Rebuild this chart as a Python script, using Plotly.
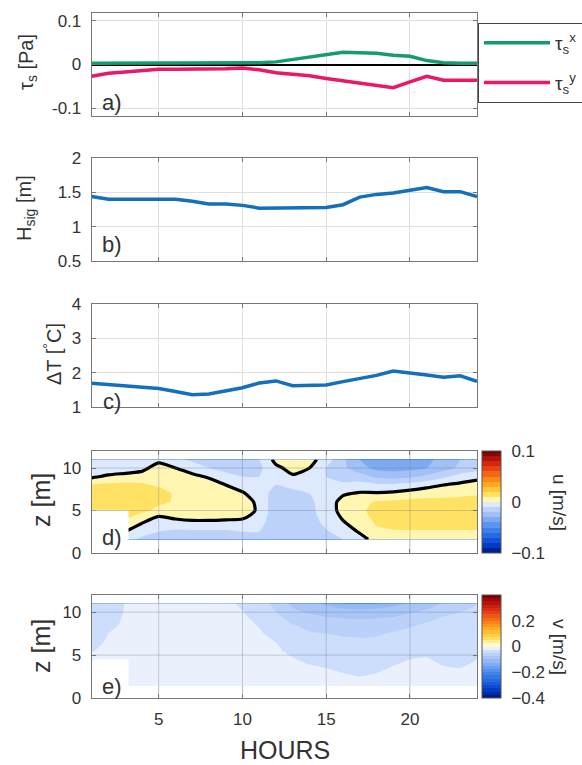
import numpy as np
import plotly.graph_objects as go

# ---------------- data ----------------
HOURS = list(range(1, 25))
TAU_X = [0.003, 0.003, 0.003, 0.003, 0.003, 0.003, 0.003, 0.003, 0.003, 0.003, 0.004, 0.006,
         0.012, 0.017, 0.022, 0.028, 0.027, 0.026, 0.021, 0.019, 0.009, 0.004, 0.003, 0.003]
TAU_Y = [-0.027, -0.020, -0.017, -0.013, -0.011, -0.011, -0.011, -0.011, -0.010, -0.008, -0.012, -0.019,
         -0.022, -0.026, -0.032, -0.037, -0.042, -0.047, -0.053, -0.040, -0.027, -0.036, -0.036, -0.036]
HSIG = [1.44, 1.40, 1.40, 1.40, 1.39, 1.40, 1.37, 1.33, 1.33, 1.31, 1.27, 1.27,
        1.27, 1.27, 1.28, 1.32, 1.43, 1.47, 1.49, 1.53, 1.57, 1.51, 1.51, 1.44]
DT = [1.69, 1.65, 1.60, 1.56, 1.54, 1.45, 1.36, 1.38, 1.48, 1.56, 1.70, 1.76,
      1.62, 1.63, 1.64, 1.74, 1.82, 1.92, 2.05, 2.00, 1.93, 1.87, 1.91, 1.75]

H_GRID = [1, 2, 3.2] + list(range(4, 25))
Z_D = [1.6, 2.5, 3.5, 4.5, 5, 6, 7, 8, 9, 10, 11]
Z_E = [1.4, 2.5, 3.5, 4.5, 5.5, 6.5, 7.5, 8.5, 9.5, 10.5, 11]

# u profiles (one per hour in H_GRID, bottom -> top), None = no data
U_PROFILES = [
    [None, None, None, None, 0.018, 0.019, 0.017, 0.011, -0.002, -0.008, -0.006],
    [None, None, None, None, 0.018, 0.019, 0.017, 0.012, 0.002, -0.008, -0.007],
    [-0.008, -0.001, 0.004, 0.013, 0.016, 0.018, 0.016, 0.012, 0.004, -0.006, -0.007],
    [-0.012, -0.006, 0.000, 0.008, 0.013, 0.015, 0.015, 0.011, 0.006, -0.004, -0.008],
    [-0.014, -0.010, -0.004, 0.001, 0.007, 0.012, 0.013, 0.009, 0.007, 0.006, -0.004],
    [-0.015, -0.012, -0.003, 0.003, 0.006, 0.009, 0.009, 0.008, 0.005, 0.000, -0.008],
    [-0.016, -0.012, -0.002, 0.004, 0.006, 0.008, 0.008, 0.006, 0.002, -0.004, -0.012],
    [-0.016, -0.012, -0.002, 0.004, 0.005, 0.007, 0.006, 0.004, -0.001, -0.010, -0.015],
    [-0.016, -0.012, -0.002, 0.003, 0.005, 0.006, 0.004, 0.000, -0.006, -0.014, -0.016],
    [-0.015, -0.010, -0.002, 0.002, 0.003, 0.004, 0.001, -0.004, -0.010, -0.016, -0.016],
    [-0.014, -0.010, -0.006, -0.002, -0.001, -0.002, -0.005, -0.008, -0.010, -0.012, -0.010],
    [-0.016, -0.016, -0.018, -0.018, -0.018, -0.017, -0.014, -0.010, -0.006, -0.002, 0.003],
    [-0.016, -0.016, -0.017, -0.017, -0.016, -0.015, -0.012, -0.008, -0.001, 0.003, 0.006],
    [-0.014, -0.014, -0.014, -0.013, -0.013, -0.012, -0.010, -0.008, -0.004, 0.000, 0.003],
    [-0.012, -0.011, -0.008, -0.006, -0.005, -0.005, -0.007, -0.009, -0.010, -0.010, -0.004],
    [-0.010, -0.006, -0.001, 0.002, 0.003, 0.003, -0.001, -0.008, -0.014, -0.018, -0.018],
    [-0.004, 0.001, 0.004, 0.007, 0.008, 0.007, 0.001, -0.006, -0.016, -0.026, -0.030],
    [0.004, 0.008, 0.011, 0.013, 0.013, 0.011, 0.001, -0.008, -0.022, -0.033, -0.036],
    [0.006, 0.009, 0.013, 0.015, 0.015, 0.012, 0.002, -0.008, -0.024, -0.034, -0.037],
    [0.006, 0.009, 0.014, 0.016, 0.016, 0.013, 0.004, -0.006, -0.022, -0.033, -0.036],
    [0.006, 0.009, 0.014, 0.016, 0.016, 0.013, 0.006, -0.003, -0.018, -0.030, -0.033],
    [0.006, 0.009, 0.014, 0.016, 0.016, 0.013, 0.007, 0.000, -0.012, -0.024, -0.026],
    [0.006, 0.009, 0.014, 0.016, 0.016, 0.013, 0.008, 0.002, -0.006, -0.018, -0.020],
    [0.006, 0.009, 0.014, 0.016, 0.016, 0.013, 0.009, 0.004, -0.003, -0.014, -0.016],
]

# v profiles (one per hour in H_GRID, bottom -> top), None = no data
V_PROFILES = [
    [None, None, None, -0.020, -0.026, -0.030, -0.033, -0.035, -0.035, -0.035, -0.035],
    [None, None, None, -0.015, -0.020, -0.023, -0.025, -0.029, -0.031, -0.032, -0.032],
    [-0.010, -0.010, -0.013, -0.014, -0.015, -0.018, -0.019, -0.021, -0.022, -0.023, -0.023],
    [-0.010, -0.011, -0.013, -0.014, -0.015, -0.016, -0.017, -0.018, -0.018, -0.019, -0.020],
    [-0.010, -0.011, -0.013, -0.014, -0.015, -0.016, -0.017, -0.018, -0.018, -0.019, -0.020],
    [-0.010, -0.011, -0.013, -0.014, -0.015, -0.016, -0.017, -0.018, -0.018, -0.019, -0.020],
    [-0.010, -0.011, -0.013, -0.014, -0.015, -0.016, -0.017, -0.018, -0.018, -0.019, -0.020],
    [-0.010, -0.011, -0.013, -0.014, -0.015, -0.016, -0.017, -0.018, -0.018, -0.019, -0.020],
    [-0.010, -0.011, -0.013, -0.014, -0.015, -0.016, -0.017, -0.018, -0.019, -0.020, -0.021],
    [-0.010, -0.011, -0.013, -0.014, -0.015, -0.017, -0.018, -0.020, -0.023, -0.026, -0.028],
    [-0.011, -0.013, -0.014, -0.016, -0.018, -0.020, -0.023, -0.026, -0.030, -0.035, -0.038],
    [-0.013, -0.015, -0.018, -0.020, -0.023, -0.025, -0.030, -0.036, -0.045, -0.054, -0.058],
    [-0.015, -0.018, -0.021, -0.024, -0.028, -0.033, -0.040, -0.049, -0.060, -0.075, -0.080],
    [-0.016, -0.019, -0.023, -0.028, -0.033, -0.039, -0.048, -0.056, -0.070, -0.085, -0.092],
    [-0.017, -0.021, -0.025, -0.030, -0.036, -0.043, -0.050, -0.060, -0.076, -0.095, -0.105],
    [-0.018, -0.023, -0.028, -0.033, -0.039, -0.045, -0.052, -0.063, -0.078, -0.102, -0.128],
    [-0.019, -0.025, -0.030, -0.035, -0.041, -0.047, -0.053, -0.064, -0.080, -0.105, -0.130],
    [-0.018, -0.023, -0.028, -0.034, -0.040, -0.046, -0.052, -0.063, -0.078, -0.102, -0.128],
    [-0.015, -0.020, -0.024, -0.028, -0.034, -0.040, -0.048, -0.058, -0.076, -0.095, -0.110],
    [-0.014, -0.018, -0.022, -0.025, -0.030, -0.035, -0.043, -0.053, -0.070, -0.085, -0.095],
    [-0.014, -0.018, -0.021, -0.024, -0.028, -0.033, -0.039, -0.046, -0.060, -0.078, -0.084],
    [-0.015, -0.020, -0.024, -0.028, -0.031, -0.035, -0.039, -0.044, -0.050, -0.068, -0.073],
    [-0.016, -0.021, -0.025, -0.029, -0.032, -0.035, -0.038, -0.042, -0.046, -0.054, -0.058],
    [-0.014, -0.018, -0.022, -0.025, -0.029, -0.032, -0.035, -0.039, -0.043, -0.048, -0.050],
]

X_TICKS = [5, 10, 15, 20]
U_TICKS = [-0.1, 0, 0.1]
V_TICKS = [-0.4, -0.2, 0, 0.2]

# ---------------- styling ----------------
W, H = 582, 765
FONT = "Liberation Sans"
TXT = "#333333"
AX = "#777777"
GRID = "#e0e0e0"

CS = [
    [0.00, "rgb(0,20,120)"], [0.06, "rgb(0,50,185)"], [0.15, "rgb(25,95,225)"],
    [0.25, "rgb(75,138,235)"], [0.32, "rgb(122,168,242)"], [0.37, "rgb(158,190,247)"],
    [0.42, "rgb(185,208,250)"], [0.47, "rgb(214,229,252)"], [0.50, "rgb(255,255,255)"],
    [0.525, "rgb(255,246,178)"], [0.575, "rgb(255,226,100)"], [0.65, "rgb(255,186,40)"],
    [0.75, "rgb(250,120,20)"], [0.85, "rgb(225,50,20)"], [0.94, "rgb(170,10,10)"],
    [1.00, "rgb(115,0,0)"],
]

L = 91.7
R = 477.0
def px(x):
    return x / W
def py(y):
    return (H - y) / H

panels = {  # top, bottom in px
    1: (13, 116), 2: (158, 261), 3: (304, 407), 4: (451, 553), 5: (595, 698)
}

def xa(i):
    return "x" if i == 1 else f"x{i}"
def ya(i):
    return "y" if i == 1 else f"y{i}"

fig = go.Figure()

# panel a
fig.add_trace(go.Scatter(x=HOURS, y=TAU_X, mode="lines", line=dict(color="#149c6a", width=3.5),
                         name="τ<sub>s</sub><sup>x</sup>", legendgroup="tx", xaxis="x", yaxis="y"))
fig.add_trace(go.Scatter(x=HOURS, y=TAU_Y, mode="lines", line=dict(color="#ec1766", width=3.5),
                         name="τ<sub>s</sub><sup>y</sup>", legendgroup="ty", xaxis="x", yaxis="y"))
# panel b, c
fig.add_trace(go.Scatter(x=HOURS, y=HSIG, mode="lines", line=dict(color="#1470ba", width=3.5),
                         showlegend=False, xaxis="x2", yaxis="y2"))
fig.add_trace(go.Scatter(x=HOURS, y=DT, mode="lines", line=dict(color="#1470ba", width=3.5),
                         showlegend=False, xaxis="x3", yaxis="y3"))

U = np.array(U_PROFILES, dtype=float).T  # rows = depth, cols = hour
V = np.array(V_PROFILES, dtype=float).T

shapes = []

def add_field(Z, zgrid, vmin, vmax, step, ticks, i, zero_line):
    top, bot = panels[i]
    cy = (top + bot) / 2
    fig.add_trace(go.Contour(
        x=H_GRID, y=zgrid, z=Z, xaxis=xa(i), yaxis=ya(i),
        colorscale=CS, zmin=vmin, zmax=vmax, autocontour=False,
        contours=dict(start=vmin, end=vmax, size=step, coloring="fill", showlines=False),
        line=dict(width=0, smoothing=0.6), showscale=True, showlegend=False, hoverinfo="skip",
        colorbar=dict(x=px(482), xanchor="left", xpad=0, y=py(cy), yanchor="middle", ypad=0,
                      thickness=19, thicknessmode="pixels",
                      len=bot - top, lenmode="pixels",
                      outlinecolor="#555555", outlinewidth=1,
                      tickvals=ticks, ticks="outside", ticklen=7, tickcolor="rgba(0,0,0,0)",
                      tickfont=dict(size=17, color=TXT, family=FONT)),
    ))
    if zero_line:
        fig.add_trace(go.Contour(
            x=H_GRID, y=zgrid, z=Z, xaxis=xa(i), yaxis=ya(i), autocontour=False,
            contours=dict(start=0, end=0, size=1, coloring="none"),
            line=dict(color="black", width=3.2, smoothing=0.6), showscale=False, showlegend=False,
            hoverinfo="skip",
        ))
    # white out the cells without data (lower-left corner)
    nan = np.isnan(Z)
    cols = np.where(nan.any(axis=0))[0]
    rows = np.where(nan.any(axis=1))[0]
    if len(cols):
        shapes.append(dict(type="rect", xref=xa(i), yref=ya(i),
                           x0=H_GRID[0] + 0.04, x1=H_GRID[cols.max() + 1],
                           y0=zgrid[0] - 0.05, y1=zgrid[rows.max() + 1],
                           fillcolor="white", line=dict(width=0), layer="above"))


add_field(U, Z_D, -0.1, 0.1, 0.01, U_TICKS, 4, True)
add_field(V, Z_E, -0.4, 0.4, 0.025, V_TICKS, 5, False)

yranges = {1: [-0.118, 0.118], 2: [0.5, 2], 3: [1, 4], 4: [0, 12], 5: [0, 12]}
yticks = {1: [-0.1, 0, 0.1], 2: [0.5, 1, 1.5, 2], 3: [1, 2, 3, 4], 4: [0, 5, 10], 5: [0, 5, 10]}
ytext = {1: ["-0.1", "0", "0.1"], 2: ["0.5", "1", "1.5", "2"], 3: ["1", "2", "3", "4"],
         4: ["0", "5", "10"], 5: ["0", "5", "10"]}

layout = dict(
    width=W, height=H, margin=dict(l=0, r=0, t=0, b=0, autoexpand=False),
    paper_bgcolor="white", plot_bgcolor="white",
    font=dict(family=FONT, color=TXT, size=17),
    showlegend=True,
    legend=dict(x=px(478), y=py(23), xanchor="left", yanchor="top",
                bordercolor="#444444", borderwidth=1, bgcolor="white",
                font=dict(size=19, family=FONT, color=TXT), itemwidth=66,
                traceorder="grouped", tracegroupgap=12),
)
for i in range(1, 6):
    top, bot = panels[i]
    xk = "xaxis" if i == 1 else f"xaxis{i}"
    yk = "yaxis" if i == 1 else f"yaxis{i}"
    layout[xk] = dict(domain=[px(L), px(R)], range=[1, 24], anchor=ya(i),
                      tickvals=X_TICKS, ticktext=[str(t) for t in X_TICKS],
                      showticklabels=(i == 5), ticks="inside", ticklen=4, tickcolor=AX,
                      showline=True, linecolor=AX, linewidth=1, mirror="ticks",
                      showgrid=True, gridcolor=GRID, gridwidth=1, zeroline=False,
                      tickfont=dict(size=17, color=TXT), ticklabelstandoff=6)
    layout[yk] = dict(domain=[py(bot), py(top)], range=yranges[i], anchor=xa(i),
                      tickvals=yticks[i], ticktext=ytext[i],
                      ticks="inside", ticklen=4, tickcolor=AX,
                      showline=True, linecolor=AX, linewidth=1, mirror="ticks",
                      showgrid=True, gridcolor=GRID, gridwidth=1,
                      zeroline=(i == 1), zerolinecolor="black", zerolinewidth=1.5,
                      tickfont=dict(size=17, color=TXT), ticklabelstandoff=6)
fig.update_layout(**layout)

# grid drawn over the filled contours (panels d, e)
for i in (4, 5):
    for xv in X_TICKS:
        shapes.append(dict(type="line", xref=xa(i), yref=f"{ya(i)} domain", x0=xv, x1=xv, y0=0, y1=1,
                           line=dict(color="rgba(120,120,120,0.35)", width=1), layer="above"))
    for yv in (5, 10):
        shapes.append(dict(type="line", xref=f"{xa(i)} domain", yref=ya(i), x0=0, x1=1, y0=yv, y1=yv,
                           line=dict(color="rgba(120,120,120,0.35)", width=1), layer="above"))
fig.update_layout(shapes=shapes)

ann = []
def add_text(t, x, y, size, angle=0):
    ann.append(dict(text=t, x=px(x), y=py(y), xref="paper", yref="paper", showarrow=False,
                    xanchor="center", yanchor="middle", textangle=angle,
                    font=dict(size=size, family=FONT, color=TXT)))

add_text("τ<sub>s</sub> [Pa]", 27, 62, 20, -90)
add_text("H<sub>sig</sub> [m]", 25, 208, 20, -90)
add_text("ΔT [<sup>°</sup>C]", 52, 354, 20, -90)
add_text("z [m]", 41, 500, 25, -90)
add_text("z [m]", 41, 646, 25, -90)
add_text("u [m/s]", 560, 502, 19, 90)
add_text("v [m/s]", 560, 647, 19, 90)
add_text("HOURS", 285, 750, 25)
for lab, yy in (("a)", 103), ("b)", 245), ("c)", 401), ("d)", 537), ("e)", 686)):
    add_text(lab, 112, yy, 22)
fig.update_layout(annotations=ann)

fig.write_html("out.html")
